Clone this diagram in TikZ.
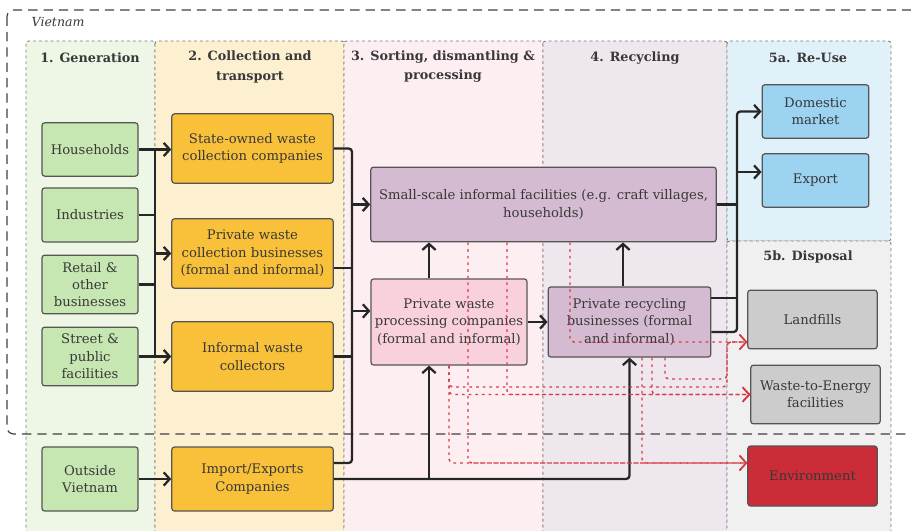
\documentclass[tikz,border=0pt]{standalone}
\usepackage{fontspec}
\setmainfont{DejaVu Serif}
\usetikzlibrary{arrows.meta,calc}

\definecolor{genbg}{HTML}{EEF6E6}
\definecolor{collbg}{HTML}{FDF0D0}
\definecolor{sortbg}{HTML}{FDEEF2}
\definecolor{recbg}{HTML}{EFE7EE}
\definecolor{reusebg}{HTML}{E1F1F9}
\definecolor{dispbg}{HTML}{F0F0F0}
\definecolor{genfill}{HTML}{C6E7B1}
\definecolor{collfill}{HTML}{F9C13A}
\definecolor{facfill}{HTML}{D4BBD2}
\definecolor{procfill}{HTML}{F9D1DC}
\definecolor{reusefill}{HTML}{9BD3F1}
\definecolor{dispfill}{HTML}{CCCCCC}
\definecolor{envfill}{HTML}{CC2B38}
\definecolor{boxline}{HTML}{555555}
\definecolor{colline}{HTML}{7A7A7A}
\definecolor{leakred}{HTML}{D93A45}
\definecolor{txt}{HTML}{383838}

\tikzset{
  stage/.style={draw=colline, line width=0.7pt, dash pattern=on 2.2pt off 2.2pt, rounded corners=2pt},
  stagehead/.style={text=txt, align=center, font=\bfseries\fontsize{9.6}{14.3}\selectfont},
  box/.style={draw=boxline, line width=0.9pt, rounded corners=2pt, align=center, inner sep=2pt,
    text=txt, font=\fontsize{9.9}{13}\selectfont},
  genbox/.style={box, fill=genfill, minimum width=72pt},
  collbox/.style={box, fill=collfill, minimum width=121pt, minimum height=52pt},
  facbox/.style={box, fill=facfill},
  procbox/.style={box, fill=procfill},
  reusebox/.style={box, fill=reusefill, minimum width=80pt, minimum height=40pt},
  dispbox/.style={box, fill=dispfill, minimum width=97pt, minimum height=44pt},
  conn/.style={draw=black!85, line width=1.7pt, rounded corners=2.5pt},
  arrow/.style={conn, -{Straight Barb[length=4.5pt,width=10pt]}},
  leak/.style={draw=leakred, line width=1.1pt, dash pattern=on 2pt off 3pt, rounded corners=3pt,
    -{Straight Barb[length=5pt,width=11pt,line width=1.1pt]}}
}

\begin{document}
\begin{tikzpicture}[x=0.75pt,y=-0.75pt]
\useasboundingbox (0,0) rectangle (911,531);

% stages
\draw[stage, fill=genbg] (26,41) rectangle (155,545);
\draw[stage, fill=collbg] (155,41) rectangle (344,545);
\draw[stage, fill=sortbg] (344,41) rectangle (543,545);
\draw[stage, fill=recbg] (543,41) rectangle (727,545);
\draw[stage, fill=reusebg] (727,41) rectangle (891,241);
\draw[stage, fill=dispbg] (727,241) rectangle (891,545);

\node[stagehead] (h1) at (90,58) {1. Generation};
\node[stagehead] (h2) at (250,67) {2. Collection and\\transport};
\node[stagehead] (h3) at (443,67) {3. Sorting, dismantling \&\\processing};
\node[stagehead] (h4) at (635,58) {4. Recycling};
\node[stagehead] (h5a) at (808,58) {5a. Re-Use};
\node[stagehead] (h5b) at (808,257) {5b. Disposal};

% country border
\draw[draw=black!75, line width=0.9pt, dash pattern=on 7pt off 4.5pt, rounded corners=5pt] (7,10) rectangle (940,434);
\node[anchor=west, text=txt, font=\itshape\fontsize{9.4}{12}\selectfont] (vn) at (27,22) {Vietnam};

% generation
\node[genbox, minimum height=40pt] (hh) at (90,149.5) {Households};
\node[genbox, minimum height=40.5pt] (ind) at (90,215) {Industries};
\node[genbox, minimum height=44pt] (ret) at (90,284.5) {Retail \&\\other\\businesses};
\node[genbox, minimum height=44pt] (str) at (90,356.5) {Street \&\\public\\facilities};
\node[genbox, minimum height=48pt] (out) at (90,479) {Outside\\Vietnam};

% collection
\node[collbox] (state) at (252.5,148.5) {State-owned waste\\collection companies};
\node[collbox] (priv) at (252.5,253.5) {Private waste\\collection businesses\\(formal and informal)};
\node[collbox] (inf) at (252.5,356.5) {Informal waste\\collectors};
\node[collbox, minimum height=48pt] (imp) at (252.5,479) {Import/Exports\\Companies};

% sorting and recycling
\node[facbox, minimum width=259pt, minimum height=56pt] (small) at (543.5,204.5) {Small-scale informal facilities (e.g. craft villages,\\households)};
\node[procbox, minimum width=117pt, minimum height=64.5pt] (proc) at (449,322) {Private waste\\processing companies\\(formal and informal)};
\node[facbox, minimum width=122pt, minimum height=52.5pt] (rec) at (629.5,322) {Private recycling\\businesses (formal\\and informal)};

% re-use and disposal
\node[reusebox] (dom) at (815.5,111.5) {Domestic\\market};
\node[reusebox] (exp) at (815.5,180.5) {Export};
\node[dispbox] (land) at (812.5,319.5) {Landfills};
\node[dispbox] (wte) at (815.5,394.5) {Waste-to-Energy\\facilities};
\node[dispbox, fill=envfill, minimum height=45pt] (env) at (812.5,476) {Environment};

\coordinate (gt) at (155,250);
\coordinate (ct) at (352,300);
\coordinate (rt) at (737,220);
\coordinate (privout) at ($(priv.east)+(0,14.5)$);
\coordinate (impup) at ($(imp.east)+(0,-16)$);
\coordinate (procin) at ($(proc.west)+(0,-11)$);
\coordinate (procbot) at ($(proc.south)+(-20,0)$);
\coordinate (proctop) at ($(proc.north)+(-20,0)$);
\coordinate (rectop) at ($(rec.north)+(-6.5,0)$);
\coordinate (recup) at ($(rec.east)+(0,-24)$);
\coordinate (reclow) at ($(rec.east)+(0,10)$);
\coordinate (expin) at ($(exp.west)+(0,-8.5)$);
\coordinate (landin) at ($(land.west)+(0,22.5)$);
\coordinate (envin) at ($(env.west)+(0,-13)$);

% generation -> collection
\draw[conn] (hh.east -| gt) -- (str.east -| gt);
\draw[arrow] (hh.east) -- (hh.east -| state.west);
\draw[conn] (ind.east) -- (ind.east -| gt);
\draw[conn] (ret.east) -- (ret.east -| gt);
\draw[arrow] (priv.west -| gt) -- (priv.west);
\draw[arrow] (str.east) -- (str.east -| inf.west);
\draw[arrow] (out.east) -- (out.east -| imp.west);

% collection -> sorting
\draw[conn] (state.east) -| (ct) |- (impup);
\draw[conn] (privout) -- (privout -| ct);
\draw[conn] (inf.east) -- (inf.east -| ct);
\draw[arrow] (small.west -| ct) -- (small.west);
\draw[arrow] (procin -| ct) -- (procin);
\draw[arrow] (imp.east) -| (rec.south);
\draw[arrow] (procbot |- imp.east) -- (procbot);

% sorting -> recycling
\draw[arrow] (proctop) -- (proctop |- small.south);
\draw[arrow] (proc.east) -- (rec.west);
\draw[arrow] (rectop) -- (rectop |- small.south);

% re-use
\draw[arrow] (reclow) -| (rt) |- (dom.west);
\draw[conn] (recup) -- (recup -| rt);
\draw[conn] (small.east) -- (small.east -| rt);
\draw[arrow] (expin -| rt) -- (expin);

% residues to disposal
\draw[leak] ($(small.south)+(26.5,0)$) |- (landin);
\draw[leak] ($(small.south)+(-36.5,0)$) |- (wte.west);
\draw[leak] ($(small.south)+(-75.5,0)$) |- (envin);
\draw[leak] (proc.south) |- (727,387) |- (landin);
\draw[leak] (proc.south) |- (wte.west);
\draw[leak] (proc.south) |- (envin);
\draw[leak] ($(rec.south)+(35.5,0)$) |- (727,379) |- (landin);
\draw[leak] ($(rec.south)+(22.5,0)$) |- (wte.west);
\draw[leak] ($(rec.south)+(12.5,0)$) |- (envin);
\end{tikzpicture}
\end{document}
